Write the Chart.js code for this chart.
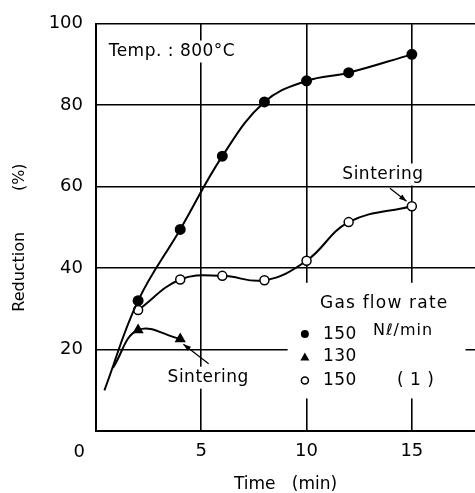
<!DOCTYPE html>
<html>
<head>
<meta charset="utf-8">
<script src="https://cdn.jsdelivr.net/npm/chart.js@4.4.1/dist/chart.umd.min.js"></script>
<style>
  body { margin: 0; background: #fff; }
  canvas { display: block; }
</style>
</head>
<body>
<canvas id="myChart" width="475" height="493"></canvas>
<script>
// reduction (%) against time (min) at 800 C, one curve per gas flow rate
var time150 = [0.4, 2, 4, 6, 8, 10, 12, 15];
var reduction150 = [10, 32, 49.5, 67.5, 80.8, 86, 88, 92.5];

var time130 = [0.8, 2, 4];
var reduction130 = [15.5, 24.8, 22.6];

var time150b = [2, 4, 6, 8, 10, 12, 15];
var reduction150b = [29.7, 37.2, 38.1, 37, 41.8, 51.3, 55.2];

var xTicks = [0, 5, 10, 15];
var yTicks = [20, 40, 60, 80, 100];

var FONT = "'DejaVu Sans', sans-serif";

function toPoints(xs, ys) {
    return xs.map(function (x, i) { return { x: x, y: ys[i] }; });
}

// the first point of these curves is only where the pen started, no marker there
function startNoMark(ctx) {
    return ctx.dataIndex === 0 ? 0 : 4.5;
}

function arrow(ctx, x1, y1, x2, y2) {
    var a = Math.atan2(y2 - y1, x2 - x1);
    ctx.beginPath();
    ctx.moveTo(x1, y1);
    ctx.lineTo(x2, y2);
    ctx.stroke();
    ctx.beginPath();
    ctx.moveTo(x2, y2);
    ctx.lineTo(x2 - 8 * Math.cos(a - 0.35), y2 - 8 * Math.sin(a - 0.35));
    ctx.lineTo(x2 - 8 * Math.cos(a + 0.35), y2 - 8 * Math.sin(a + 0.35));
    ctx.closePath();
    ctx.fill();
}

var notes = {
    id: 'notes',
    beforeDatasetsDraw: function (chart) {
        var ctx = chart.ctx;
        var sx = chart.scales.x, sy = chart.scales.y;
        var px = function (v) { return sx.getPixelForValue(v); };
        var py = function (v) { return sy.getPixelForValue(v); };

        ctx.save();
        ctx.font = '17px ' + FONT;
        ctx.letterSpacing = '0.5px';
        ctx.textBaseline = 'middle';
        ctx.textAlign = 'left';

        // text with the grid wiped out behind it
        function label(text, x, y) {
            var w = ctx.measureText(text).width;
            ctx.fillStyle = '#fff';
            ctx.fillRect(x - 3, y - 11, w + 6, 22);
            ctx.fillStyle = '#000';
            ctx.fillText(text, x, y);
        }

        label('Temp. : 800\u00b0C', px(0.6), py(93.2));
        label('Sintering', px(3.4), py(13.1));
        label('Sintering', px(11.7), py(63));

        // legend box
        var lx = px(9.1), ly = py(36.4);
        ctx.fillStyle = '#fff';
        ctx.fillRect(lx, ly, px(17.55) - lx, py(8) - ly);
        ctx.fillStyle = '#000';
        ctx.strokeStyle = '#000';

        var mx = px(9.92), tx = px(10.78);
        ctx.save();
        ctx.letterSpacing = '1.2px';
        ctx.fillText('Gas flow rate', px(10.64), py(31.4));
        ctx.restore();

        var r1 = py(23.8), r2 = py(18.2), r3 = py(12.4);
        ctx.beginPath();
        ctx.arc(mx, r1, 4, 0, Math.PI * 2);
        ctx.fill();
        ctx.fillText('150', tx, r1);
        ctx.save();
        ctx.font = '16px ' + FONT;
        ctx.letterSpacing = '1px';
        ctx.fillText('N\u2113/min', tx + 50, r1 - 3);
        ctx.restore();

        ctx.beginPath();
        ctx.moveTo(mx, r2 - 4.5);
        ctx.lineTo(mx + 4.5, r2 + 3.5);
        ctx.lineTo(mx - 4.5, r2 + 3.5);
        ctx.closePath();
        ctx.fill();
        ctx.fillText('130', tx, r2);

        ctx.lineWidth = 1.5;
        ctx.beginPath();
        ctx.arc(mx, r3, 3.5, 0, Math.PI * 2);
        ctx.stroke();
        ctx.fillText('150', tx, r3);
        ctx.fillText('( 1 )', tx + 74, r3);

        ctx.restore();
    },
    afterDatasetsDraw: function (chart) {
        var ctx = chart.ctx;
        var sx = chart.scales.x, sy = chart.scales.y;
        var px = function (v) { return sx.getPixelForValue(v); };
        var py = function (v) { return sy.getPixelForValue(v); };
        ctx.save();
        ctx.strokeStyle = '#000';
        ctx.fillStyle = '#000';
        ctx.lineWidth = 1.2;
        arrow(ctx, px(5.35), py(16.5), px(4.15), py(21.3));
        arrow(ctx, px(13.96), py(59.6), px(14.75), py(56.4));

        // shared origin label, set off to the left of the corner
        ctx.font = '18px ' + FONT;
        ctx.textAlign = 'right';
        ctx.textBaseline = 'middle';
        ctx.fillText('0', px(0) - 11, chart.chartArea.bottom + 21);
        ctx.restore();
    }
};

var gridStyle = { color: '#000', lineWidth: 1.6, drawTicks: false };
var borderStyle = { color: '#000', width: 2 };

new Chart(document.getElementById('myChart').getContext('2d'), {
    type: 'line',
    data: {
        datasets: [{
            label: '150 Nl/min',
            data: toPoints(time150, reduction150),
            borderColor: '#000',
            backgroundColor: '#000',
            borderWidth: 2,
            pointStyle: 'circle',
            pointRadius: startNoMark,
            tension: 0.4,
            fill: false
        }, {
            label: '130',
            data: toPoints(time130, reduction130),
            borderColor: '#000',
            backgroundColor: '#000',
            borderWidth: 2,
            pointStyle: 'triangle',
            pointRadius: startNoMark,
            tension: 0.4,
            fill: false
        }, {
            label: '150 (1)',
            data: toPoints(time150b, reduction150b),
            borderColor: '#000',
            backgroundColor: '#fff',
            borderWidth: 2,
            pointBorderWidth: 1.5,
            pointStyle: 'circle',
            pointRadius: 4.5,
            tension: 0.4,
            fill: false
        }]
    },
    options: {
        responsive: false,
        animation: false,
        layout: { autoPadding: false, padding: { top: 20, right: 0, bottom: 0, left: 0 } },
        plugins: {
            legend: { display: false },
            tooltip: { enabled: false }
        },
        scales: {
            x: {
                type: 'linear',
                min: 0,
                max: 18,
                afterBuildTicks: function (scale) {
                    scale.ticks = xTicks.map(function (v) { return { value: v }; });
                },
                afterFit: function (scale) { scale.height = 62; },
                grid: gridStyle,
                border: borderStyle,
                ticks: {
                    color: '#000',
                    padding: 10,
                    font: { family: FONT, size: 18 },
                    callback: function (v) { return v === 0 ? '' : v; }
                },
                title: {
                    display: true,
                    text: 'Time   (min)',
                    color: '#000',
                    font: { family: FONT, size: 17, lineHeight: 1 },
                    padding: { top: 0, bottom: 0 }
                }
            },
            y: {
                type: 'linear',
                min: 0,
                max: 100,
                afterBuildTicks: function (scale) {
                    scale.ticks = yTicks.map(function (v) { return { value: v }; });
                },
                afterFit: function (scale) { scale.width = 96; },
                grid: gridStyle,
                border: borderStyle,
                ticks: {
                    color: '#000',
                    padding: 13,
                    font: { family: FONT, size: 18 }
                },
                title: {
                    display: true,
                    text: 'Reduction        (%)    ',
                    color: '#000',
                    font: { family: FONT, size: 16, lineHeight: 1.2 },
                    padding: { top: 10, bottom: 0 }
                }
            }
        }
    },
    plugins: [notes]
});
</script>
</body>
</html>
